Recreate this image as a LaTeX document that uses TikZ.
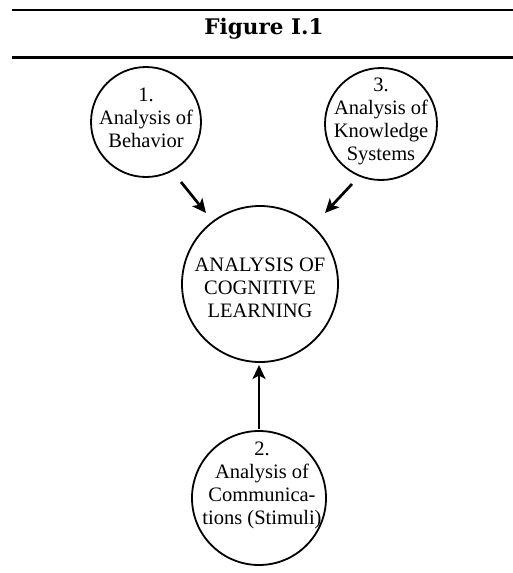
\documentclass[tikz,border=0pt]{standalone}
\usepackage{fontspec}
\setmainfont{Liberation Serif}
\newfontfamily\titlefont{DejaVu Serif}
\usetikzlibrary{arrows.meta}
\begin{document}
\begin{tikzpicture}[x=1pt,y=-1pt,
  bub/.style={circle,draw,line width=1.8pt,inner sep=0pt},
  txt/.style={align=center,inner sep=0pt,font=\fontsize{20.5}{23}\selectfont},
  arr/.style={line width=2.7pt,-{Stealth[length=14pt,width=13pt,inset=3.5pt]}},
  rulethin/.style={line width=2pt},
  rulethick/.style={line width=3pt}]
\useasboundingbox (0,0) rectangle (513,573);
\coordinate (r1a) at (12,10);
\coordinate (r1b) at (513,10);
\coordinate (r2a) at (12,57);
\coordinate (r2b) at (513,57);
\draw[rulethin] (r1a) -- (r1b);
\draw[rulethick] (r2a) -- (r2b);
\node[inner sep=0pt] (title) at (264,29) {\titlefont\bfseries\fontsize{21.5}{24}\selectfont Figure I.1};

\node[bub,minimum size=110pt] (c1) at (146,122) {};
\node[bub,minimum size=112pt] (c3) at (381,124) {};
\node[bub,minimum size=156pt] (cc) at (260,284) {};
\node[bub,minimum size=134pt] (c2) at (259,498) {};

\node[txt] (t1) at (146,118) {1.\\Analysis of\\Behavior};
\node[txt] (t3) at (381,121) {3.\\Analysis of\\Knowledge\\Systems};
\node[txt] (tc) at (260,288) {ANALYSIS OF\\COGNITIVE\\LEARNING};
\node[txt] (t2) at (262,485) {2.\\Analysis of\\Communica-\\tions (Stimuli)};

\coordinate (a1s) at (181,182);
\coordinate (a1e) at (206,213);
\coordinate (a3s) at (352,184);
\coordinate (a3e) at (325,213);
\coordinate (a2s) at (259,429);
\coordinate (a2e) at (259,365);
\draw[arr] (a1s) -- (a1e);
\draw[arr] (a3s) -- (a3e);
\draw[arr] (a2s) -- (a2e);
\end{tikzpicture}
\end{document}
